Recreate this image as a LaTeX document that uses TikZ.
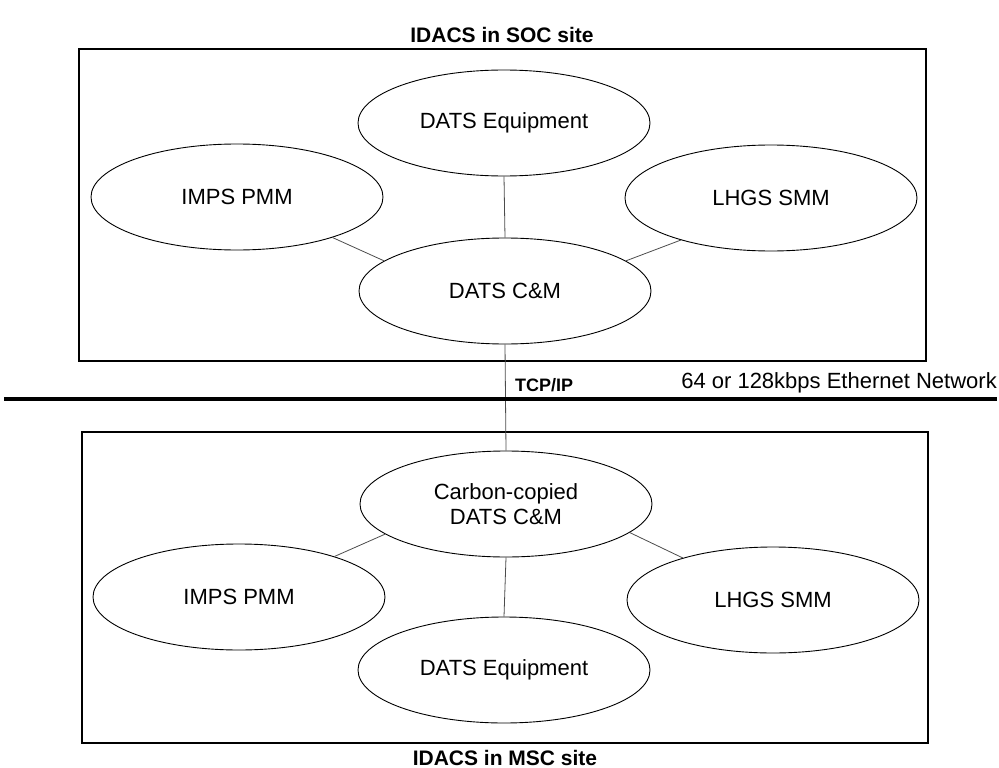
\documentclass[tikz,border=0pt]{standalone}
\usepackage{fontspec}
\setmainfont{Liberation Sans}
\usetikzlibrary{shapes.geometric}
\tikzset{
  unit/.style={ellipse, draw=black, line width=0.9pt, minimum width=292pt,
    minimum height=106pt, inner sep=0pt, align=center,
    font=\fontsize{22}{25}\selectfont},
  sitebox/.style={draw=black, line width=1.1pt, inner sep=0pt},
  sitetitle/.style={inner sep=0pt, font=\bfseries\fontsize{21}{24}\selectfont},
  link/.style={draw=black!70, line width=0.8pt},
  backbone/.style={draw=black, line width=4pt},
}
\begin{document}
\begin{tikzpicture}[x=1pt, y=-1pt]
\useasboundingbox (0,0) rectangle (999,768);

% SOC site
\node[sitetitle] (socTitle) at (502,35) {IDACS in SOC site};
\node[sitebox, minimum width=847pt, minimum height=312pt] (socBox) at (502.5,205) {};
\node[unit] (deqA) at (504,123) {DATS Equipment};
\node[unit] (impsA) at (237,197) {IMPS PMM};
\node[unit] (lhgsA) at (771,198) {LHGS SMM};
\node[unit] (cmA) at (505,291) {DATS C\&M};

\draw[link] (deqA.south) -- (cmA.north);
\draw[link] (impsA.-23) -- (cmA.166);
\draw[link] (lhgsA.-155) -- (cmA.14);

% MSC site
\node[sitebox, minimum width=846pt, minimum height=311pt] (mscBox) at (505,587.5) {};
\node[unit] (ccB) at (506,504) {Carbon-copied\\DATS C\&M};
\node[unit] (impsB) at (239,597) {IMPS PMM};
\node[unit] (lhgsB) at (773,600) {LHGS SMM};
\node[unit] (deqB) at (504,670) {DATS Equipment};
\node[sitetitle] (mscTitle) at (505,758) {IDACS in MSC site};

\draw[link] (ccB.-166) -- (impsB.23);
\draw[link] (ccB.-13) -- (lhgsB.155);
\draw[link] (ccB.south) -- (deqB.north);

% link between the sites across the network
\draw[link] (cmA.south) -- (ccB.north);
\coordinate (netL) at (4,398.5);
\coordinate (netR) at (997,398.5);
\draw[backbone] (netL) -- (netR);
\node[anchor=base west, inner sep=0pt, font=\bfseries\fontsize{18}{20}\selectfont] (tcp) at (515,391) {TCP/IP};
\node[anchor=base east, inner sep=0pt, font=\fontsize{22}{25}\selectfont] (eth) at (997,388) {64 or 128kbps Ethernet Network};
\end{tikzpicture}
\end{document}
